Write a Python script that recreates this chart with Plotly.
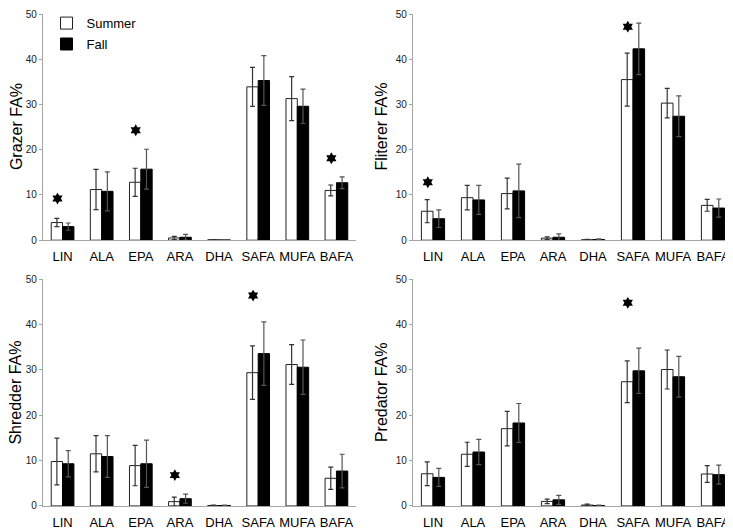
import plotly.graph_objects as go

categories = ["LIN", "ALA", "EPA", "ARA", "DHA", "SAFA", "MUFA", "BAFA"]

# Summer / Fall means and standard deviations per feeding group
grazer_summer = [3.9, 11.2, 12.8, 0.5, 0.1, 33.9, 31.3, 11.0]
grazer_summer_err = [0.9, 4.45, 3.1, 0.35, 0.05, 4.3, 4.85, 1.2]
grazer_fall = [3.0, 10.8, 15.7, 0.65, 0.05, 35.3, 29.6, 12.7]
grazer_fall_err = [0.8, 4.3, 4.4, 0.65, 0.05, 5.5, 3.8, 1.3]

filterer_summer = [6.4, 9.4, 10.3, 0.45, 0.1, 35.5, 30.3, 7.7]
filterer_summer_err = [2.55, 2.7, 3.4, 0.3, 0.1, 5.85, 3.25, 1.3]
filterer_fall = [4.75, 8.9, 10.9, 0.65, 0.15, 42.3, 27.4, 7.1]
filterer_fall_err = [1.95, 3.2, 5.9, 0.75, 0.15, 5.7, 4.5, 2.0]

shredder_summer = [9.8, 11.5, 8.9, 0.95, 0.1, 29.4, 31.2, 6.1]
shredder_summer_err = [5.15, 4.0, 4.45, 1.0, 0.1, 5.9, 4.4, 2.45]
shredder_fall = [9.3, 10.9, 9.3, 1.6, 0.1, 33.6, 30.6, 7.7]
shredder_fall_err = [2.9, 4.6, 5.2, 1.0, 0.1, 7.0, 6.0, 3.7]

predator_summer = [7.1, 11.4, 17.05, 1.0, 0.2, 27.4, 30.1, 7.05]
predator_summer_err = [2.6, 2.65, 3.8, 0.5, 0.2, 4.6, 4.3, 1.85]
predator_fall = [6.3, 11.9, 18.3, 1.35, 0.1, 29.8, 28.5, 6.9]
predator_fall_err = [2.0, 2.8, 4.3, 1.0, 0.1, 5.0, 4.5, 2.1]

# significance stars: category and height
grazer_star_cats = ["LIN", "EPA", "BAFA"]
grazer_star_y = [9.2, 24.3, 18.1]
filterer_star_cats = ["LIN", "SAFA"]
filterer_star_y = [12.8, 47.2]
shredder_star_cats = ["ARA", "SAFA"]
shredder_star_y = [6.8, 46.4]
predator_star_cats = ["SAFA"]
predator_star_y = [44.8]

# page offset (browser body margin) and figure size
OFF = 8
W, H = 733 - OFF, 531 - OFF
FONT = "Arial, 'Liberation Sans', sans-serif"

panels = [
    dict(name="Grazer", s=grazer_summer, se=grazer_summer_err, f=grazer_fall, fe=grazer_fall_err,
         sc=grazer_star_cats, sy=grazer_star_y, xd=(43, 356), yd=(8, 239.5)),
    dict(name="Fliterer", s=filterer_summer, se=filterer_summer_err, f=filterer_fall, fe=filterer_fall_err,
         sc=filterer_star_cats, sy=filterer_star_y, xd=(413, 733), yd=(8, 239.5)),
    dict(name="Shredder", s=shredder_summer, se=shredder_summer_err, f=shredder_fall, fe=shredder_fall_err,
         sc=shredder_star_cats, sy=shredder_star_y, xd=(43, 356), yd=(279.5, 511.5)),
    dict(name="Predator", s=predator_summer, se=predator_summer_err, f=predator_fall, fe=predator_fall_err,
         sc=predator_star_cats, sy=predator_star_y, xd=(413, 733), yd=(279.5, 511.5)),
]


def px(v):
    return min(1.0, max(0.0, (v - OFF) / W))


def py(v):
    return min(1.0, max(0.0, 1 - (v - OFF) / H))


fig = go.Figure()
pos = list(range(len(categories)))
star_offset = -0.13
layout = {}
annotations = []
for i, p in enumerate(panels):
    k = "" if i == 0 else str(i + 1)
    xa, ya = "x" + k, "y" + k
    fig.add_trace(go.Bar(
        x=pos, y=p["s"], name="Summer", legendgroup="Summer", showlegend=(i == 0),
        marker=dict(color="white", line=dict(color="#222222", width=1)),
        error_y=dict(type="data", array=p["se"], color="#333333", thickness=1.2, width=2.5),
        xaxis=xa, yaxis=ya))
    fig.add_trace(go.Bar(
        x=pos, y=p["f"], name="Fall", legendgroup="Fall", showlegend=(i == 0),
        marker=dict(color="black", line=dict(color="black", width=1)),
        error_y=dict(type="data", array=p["fe"], color="#555555", thickness=1.2, width=2.5),
        xaxis=xa, yaxis=ya))
    fig.add_trace(go.Scatter(
        x=[categories.index(c) + star_offset for c in p["sc"]], y=p["sy"], mode="markers",
        marker=dict(symbol="hexagram", size=9, color="black"), showlegend=False,
        hoverinfo="skip", xaxis=xa, yaxis=ya))
    x0, x1 = p["xd"]
    y0, y1 = p["yd"]
    layout["xaxis" + k] = dict(
        domain=[px(x0), px(x1)], anchor=ya, range=[-0.5, 7.5], tickvals=pos, ticktext=categories,
        showline=True, linecolor="#a6a6a6", linewidth=1.3, ticks="", showgrid=False, zeroline=False,
        tickfont=dict(family=FONT, size=13, color="black"), ticklabelstandoff=4, fixedrange=True)
    layout["yaxis" + k] = dict(
        domain=[py(y1), py(y0)], anchor=xa, range=[0, 50], dtick=10,
        showline=True, linecolor="#a6a6a6", linewidth=1.3, ticks="outside", ticklen=3,
        tickcolor="#a6a6a6", showgrid=False, zeroline=False,
        tickfont=dict(family=FONT, size=10, color="#222222"), ticklabelstandoff=0, fixedrange=True)
    annotations.append(dict(
        text=p["name"] + " FA%", textangle=-90, xref="paper", yref="paper",
        x=max(x0 - 31.5 - OFF, 8) / W, y=py((y0 + y1) / 2), xanchor="center", yanchor="middle",
        showarrow=False, font=dict(family=FONT, size=16, color="black")))

fig.update_layout(
    width=W, height=H, margin=dict(l=0, r=0, t=0, b=0),
    paper_bgcolor="white", plot_bgcolor="white",
    barmode="group", bargap=0.42, bargroupgap=0,
    annotations=annotations,
    legend=dict(x=px(46.5), y=1 + 6 / H, xanchor="left", yanchor="top",
                font=dict(family=FONT, size=13, color="black"), bgcolor="rgba(0,0,0,0)",
                itemwidth=30, tracegroupgap=1),
    **layout,
)
fig.write_html("out.html")
